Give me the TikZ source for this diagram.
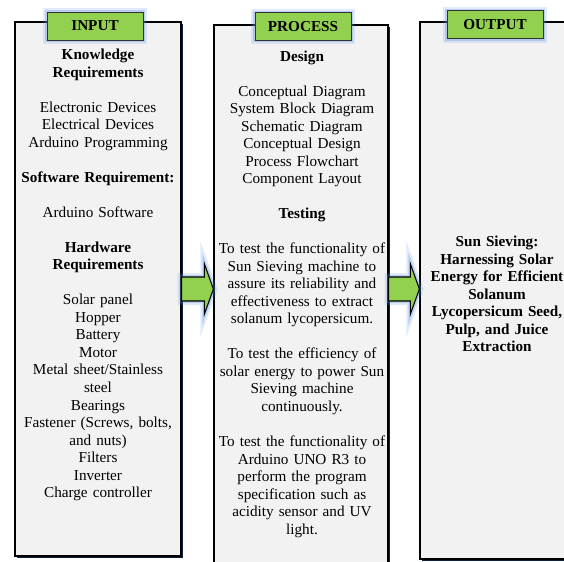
\documentclass[tikz,border=0pt]{standalone}
\usepackage{fontspec}
\setmainfont{Liberation Serif}
\usetikzlibrary{shadows,calc}
\definecolor{boxgray}{HTML}{F2F2F2}
\definecolor{tabgreen}{HTML}{92D050}
\definecolor{shadenavy}{HTML}{0E2140}
\definecolor{glowblue}{HTML}{5B8FE0}
\tikzset{
  glow/.style={preaction={draw=glowblue,line width=#1,opacity=0.18},
               preaction={draw=glowblue,line width=#1/2,opacity=0.3}},
  colbox/.style={draw=black,fill=boxgray,line width=0.9pt,inner sep=0pt,
                 glow=2pt,
                 drop shadow={shadow xshift=1.6pt,shadow yshift=-1.6pt,
                              fill=shadenavy,opacity=1}},
  coltab/.style={draw=black!80,fill=tabgreen,line width=0.6pt,glow=6pt,
                 minimum width=72pt,inner sep=0pt,
                 font=\fontsize{11.4pt}{13pt}\selectfont\bfseries},
  coltext/.style={align=center,inner sep=0pt,
                  font=\fontsize{11.4pt}{13.14pt}\selectfont},
  flowarrow/.style={draw=black,fill=tabgreen,line width=0.8pt,glow=6pt},
}
\begin{document}
\begin{tikzpicture}[x=0.75pt,y=-0.75pt]
  \useasboundingbox (0,0) rectangle (564,561);
  \clip (0,0) rectangle (564,561);
  % columns
  \node[colbox,minimum width=124.5pt,minimum height=400.5pt] (input) at (98,289) {};
  \node[colbox,minimum width=130.5pt,minimum height=420pt] (process) at (301,305) {};
  \node[colbox,minimum width=135pt,minimum height=402.75pt] (output) at (510,290.5) {};
  % arrows between columns
  \foreach \src/\dst in {input/process,process/output} {
    \coordinate (s) at (\src.east |- input.east);
    \coordinate (t) at (\dst.west |- input.east);
    \draw[flowarrow] ($(s)+(0,-12)$) -- ($(t)+(-9,-12)$) -- ($(t)+(-9,-25)$) -- (t)
      -- ($(t)+(-9,25)$) -- ($(t)+(-9,12)$) -- ($(s)+(0,12)$) -- cycle;
  }
  % tabs
  \node[coltab,minimum height=21pt] (inputtab) at (95,26) {INPUT};
  \node[coltab,minimum height=20.5pt] (processtab) at (303,26.5) {PROCESS};
  \node[coltab,minimum height=21pt] (outputtab) at (495,24.5) {OUTPUT};
  % texts
  \node[coltext,text width=124pt] (inputtext) at (98,275) {%
    \textbf{Knowledge}\\ \textbf{Requirements}\\[\baselineskip]
    Electronic Devices\\ Electrical Devices\\ Arduino Programming\\[\baselineskip]
    \textbf{Software Requirement:}\\[\baselineskip]
    Arduino Software\\[\baselineskip]
    \textbf{Hardware}\\ \textbf{Requirements}\\[\baselineskip]
    Solar panel\\ Hopper\\ Battery\\ Motor\\ Metal sheet/Stainless\\ steel\\
    Bearings\\ Fastener (Screws, bolts,\\ and nuts)\\ Filters\\ Inverter\\
    Charge controller};
  \node[coltext,text width=130pt] (processtext) at (302,294) {%
    \textbf{Design}\\[\baselineskip]
    Conceptual Diagram\\ System Block Diagram\\ Schematic Diagram\\
    Conceptual Design\\ Process Flowchart\\ Component Layout\\[\baselineskip]
    \textbf{Testing}\\[\baselineskip]
    To test the functionality of\\ Sun Sieving machine to\\
    assure its reliability and\\ effectiveness to extract\\
    solanum lycopersicum.\\[\baselineskip]
    To test the efficiency of\\ solar energy to power Sun\\
    Sieving machine\\ continuously.\\[\baselineskip]
    To test the functionality of\\ Arduino UNO R3 to\\ perform the program\\
    specification such as\\ acidity sensor and UV\\ light.};
  \node[coltext,text width=135pt,font=\fontsize{11.4pt}{13.14pt}\selectfont\bfseries]
    (outputtext) at (497,294) {%
    Sun Sieving:\\ Harnessing Solar\\ Energy for Efficient\\ Solanum\\
    Lycopersicum Seed,\\ Pulp, and Juice\\ Extraction};
\end{tikzpicture}
\end{document}
